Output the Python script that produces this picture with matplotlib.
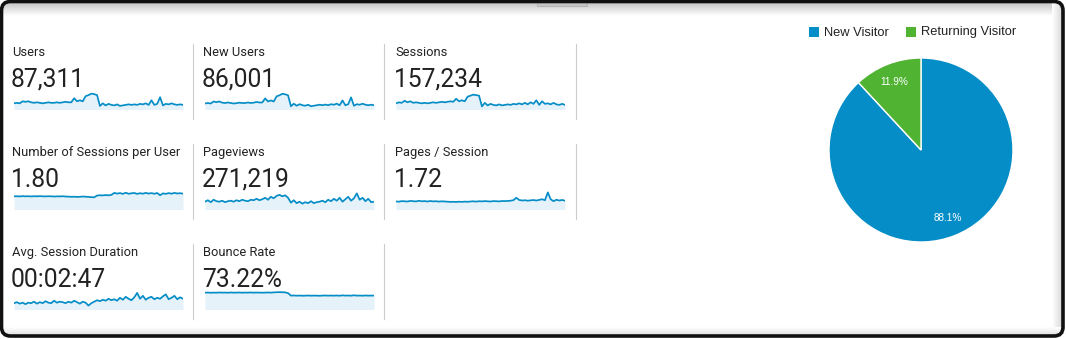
import matplotlib
matplotlib.use("Agg")
import matplotlib.pyplot as plt
from matplotlib.patches import FancyBboxPatch, Rectangle
import numpy as np

W, H = 1066, 339

# ---------------- data ----------------
metric_labels = ["Users", "New Users", "Sessions",
                 "Number of Sessions per User", "Pageviews", "Pages / Session",
                 "Avg. Session Duration", "Bounce Rate"]
metric_values = ["87,311", "86,001", "157,234",
                 "1.80", "271,219", "1.72",
                 "00:02:47", "73.22%"]

users = [760,790,760,880,850,880,820,790,820,790,760,790,820,790,790,820,790,820,850,820,
         820,1060,880,940,880,1180,1240,1330,1300,1240,610,760,640,730,670,640,700,610,640,670,
         700,670,700,670,730,700,760,670,940,670,730,1120,640,730,700,760,700,670,700,670]
new_users = [750,780,750,870,830,870,800,780,810,780,750,770,800,780,780,810,780,800,840,810,
             810,1050,870,930,870,1170,1230,1320,1290,1230,590,740,620,710,650,620,680,590,620,650,
             680,650,690,650,710,680,740,650,930,650,710,1110,620,710,680,740,680,650,680,650]
sessions = [1600,1700,1650,1850,1700,1800,1650,1700,1650,1600,1650,1600,1650,1700,1650,1700,1750,1700,1750,1800,
            1750,2050,1800,1900,1800,2250,2350,2450,2400,2350,1300,1650,1400,1550,1450,1400,1500,1400,1450,1500,
            1450,1550,1500,1600,1500,1650,1500,1700,1550,1900,1450,1800,1550,1600,1500,1650,1500,1450,1550,1450]
sessions_per_user = [1.81,1.816,1.804,1.822,1.81,1.816,1.804,1.816,1.81,1.822,
                     1.81,1.804,1.816,1.81,1.798,1.81,1.804,1.816,1.798,1.792,
                     1.78,1.786,1.774,1.78,1.798,1.786,1.774,1.756,1.75,1.858,
                     1.876,1.864,1.888,1.87,1.90,2.02,1.978,2.008,1.96,2.032,
                     1.966,1.996,2.014,1.96,2.002,1.972,2.02,1.978,2.008,1.966,
                     2.014,1.876,1.99,1.96,2.008,1.972,2.02,1.984,2.002,1.972]
pageviews = [2600,2900,2500,3000,2700,2600,2800,2500,2700,2800,
             2600,2900,2700,3000,2800,2700,3000,2900,3200,2900,
             3100,3400,3000,3600,3300,3800,4000,3700,3900,3400,
             2400,2900,2300,2600,2200,2500,2300,2700,2300,2500,
             2600,2800,2500,3000,2700,3200,2800,3400,2600,3100,
             3600,2800,3300,4300,3000,3400,2700,3200,2500,2600]
pages_per_session = [1.747,1.72,1.774,1.756,1.738,1.792,1.765,1.747,1.801,1.756,
                     1.774,1.738,1.783,1.747,1.765,1.729,1.756,1.738,1.72,1.702,
                     1.711,1.693,1.72,1.702,1.729,1.711,1.738,1.756,1.729,1.765,
                     1.747,1.774,1.756,1.738,1.774,1.765,1.747,1.783,1.774,1.792,
                     1.81,1.864,2.08,1.882,1.828,1.855,1.81,1.846,1.873,1.828,
                     1.882,1.945,1.855,2.575,1.945,1.765,1.90,1.828,1.882,1.81]
avg_session_duration = [139,145,136,142,133,142,139,148,136,145,
                        139,151,142,139,154,142,148,145,139,148,
                        142,154,145,136,148,142,124,139,148,157,
                        151,160,154,166,157,163,154,172,160,178,
                        166,157,175,202,166,184,160,172,178,163,
                        172,166,181,193,163,172,184,163,175,166]
bounce_rate = [76.8,77.2,76.5,77.0,76.7,77.3,76.9,77.1,76.6,77.4,
               76.8,77.0,77.3,76.7,77.1,76.9,77.4,76.8,77.2,77.0,
               76.7,77.1,77.3,76.9,77.6,78.0,78.2,78.1,77.5,75.5,
               68.6,69.0,68.4,68.8,68.2,68.5,68.9,68.3,68.7,68.5,
               68.2,68.6,69.0,68.4,68.8,68.5,68.9,68.3,69.4,68.6,
               68.9,68.4,69.6,68.5,68.8,68.3,69.0,68.5,68.7,68.6]

sparks = [users, new_users, sessions, sessions_per_user, pageviews,
          pages_per_session, avg_session_duration, bounce_rate]
spark_ylims = [(400, 1600), (400, 1600), (1000, 3000), (1.0, 2.26),
               (1000, 5200), (1.0, 2.89), (100, 226), (30, 87)]

visitor_types = ["New Visitor", "Returning Visitor"]
visitor_share = [88.1, 11.9]

# ---------------- style ----------------
LINE = "#058dc7"
FILL = "#e6f2f9"
GREEN = "#50b432"
TXT = "#222222"
plt.rcParams["font.family"] = ["Roboto", "DejaVu Sans"]

fig = plt.figure(figsize=(W / 100, H / 100), dpi=100)
fig.patch.set_facecolor("white")

def add_ax(x0, y0, w, h):
    return fig.add_axes([x0 / W, 1 - (y0 + h) / H, w / W, h / H])

def fx(x):
    return x / W

def fy(y):
    return 1 - y / H

# background / frame axes
bg = fig.add_axes([0, 0, 1, 1])
bg.set_xlim(0, W)
bg.set_ylim(H, 0)
bg.axis("off")
grad_top = np.linspace(0.78, 1.0, 40).reshape(-1, 1)
bg.imshow(grad_top, extent=(3, 1062, 16, 3), cmap="gray", vmin=0, vmax=1,
          aspect="auto", zorder=1, interpolation="bilinear")
grad_r = np.linspace(1.0, 0.85, 40).reshape(1, -1)
bg.imshow(grad_r, extent=(1052, 1062, 335, 3), cmap="gray", vmin=0, vmax=1,
          aspect="auto", zorder=1, interpolation="bilinear")
grad_b = np.linspace(1.0, 0.88, 20).reshape(-1, 1)
bg.imshow(grad_b, extent=(3, 1062, 335, 327), cmap="gray", vmin=0, vmax=1,
          aspect="auto", zorder=1, interpolation="bilinear")
bg.add_patch(Rectangle((537, 1), 50, 5, facecolor="#c4c4c4", edgecolor="#b0b0b0",
                       lw=0.6, zorder=2))
bg.add_patch(FancyBboxPatch((9, 9), W - 19.5, H - 19.5,
                            boxstyle="round,pad=7.5,rounding_size=9",
                            facecolor="none", edgecolor="#111111", lw=2.6, zorder=3))
bg.set_zorder(0)

# ---------------- metric tiles ----------------
col_text_x = [12, 203, 395]
col_spark_x = [14, 205, 396]
spark_w = 169
dividers_x = [192, 383, 575]
for i, (lab, val, data, yl) in enumerate(zip(metric_labels, metric_values, sparks, spark_ylims)):
    r, c = divmod(i, 3)
    base = 100 * r
    fig.text(fx(col_text_x[c]), fy(base + 56), lab, fontsize=9.3, color=TXT,
             va="baseline", ha="left")
    fig.text(fx(col_text_x[c] - 1), fy(base + 87), val, fontsize=17.7, color=TXT,
             va="baseline", ha="left")
    ax = add_ax(col_spark_x[c], base + 89, spark_w, 20.5)
    xs = np.arange(len(data))
    ax.fill_between(xs, data, yl[0], color=FILL, lw=0)
    ax.plot(xs, data, color=LINE, lw=1.25, solid_joinstyle="round")
    ax.set_xlim(0, len(data) - 1)
    ax.set_ylim(*yl)
    ax.axis("off")

# dividers
for r in range(3):
    base = 100 * r
    n_cols = 3 if r < 2 else 2
    for c in range(n_cols):
        bg.plot([dividers_x[c] + 0.5] * 2, [base + 44, base + 119], color="#cccccc",
                lw=0.8, zorder=2)

# ---------------- pie ----------------
pax = add_ax(829, 58, 184, 184)
wedges, _, autotexts = pax.pie(visitor_share, colors=[LINE, GREEN], startangle=90,
                               counterclock=False, autopct="%.1f%%", pctdistance=0.79,
                               wedgeprops=dict(edgecolor="white", linewidth=1.0),
                               textprops=dict(color="white", fontsize=7.2,
                                              family=["Liberation Sans", "DejaVu Sans"]))
pax.set_aspect("equal")
pax.set_xlim(-1.0, 1.0)
pax.set_ylim(-1.0, 1.0)

# legend
leg_items = [(809, LINE, visitor_types[0]), (906, GREEN, visitor_types[1])]
for x0, col, name in leg_items:
    bg.add_patch(Rectangle((x0, 27), 10, 10, facecolor=col, edgecolor="none", zorder=4))
    bg.text(x0 + 15, 32.5, name, fontsize=9.3, color=TXT, va="center", ha="left",
            family=["Liberation Sans", "DejaVu Sans"], zorder=4)

fig.savefig("out.png", dpi=100, facecolor="white")
